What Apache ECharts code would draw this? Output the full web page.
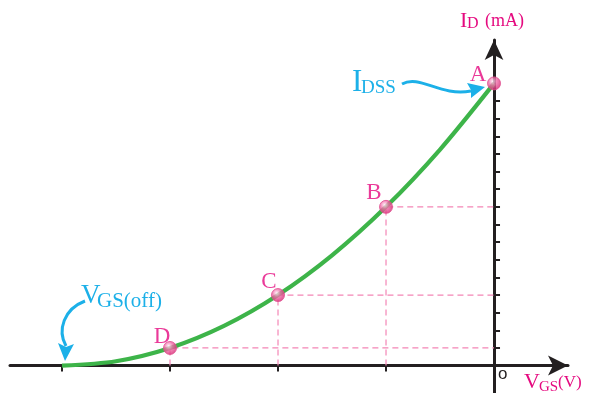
<!DOCTYPE html>
<html>
<head>
<meta charset="utf-8">
<script src="https://cdn.jsdelivr.net/npm/echarts@6/dist/echarts.min.js"></script>
<style>html,body{margin:0;padding:0;background:#fff}#c{width:589px;height:393px}</style>
</head>
<body>
<div id="c"></div>
<script>
// ---- data ----
var curveV = [-4, -3.5, -3, -2.5, -2, -1.5, -1, -0.5, 0];          // V_GS (V)
var curveI = [0, 0.25, 1, 2.25, 4, 6.25, 9, 12.25, 16];             // I_D (mA)
var pointNames = ['A', 'B', 'C', 'D'];
var pointV = [0, -1, -2, -3];
var pointI = [16, 9, 4, 1];
var xTicks = [-4, -3, -2, -1];
var yTicks = [1, 2, 3, 4, 5, 6, 7, 8, 9, 10, 11, 12, 13, 14, 15];

var MAG = '#e5097f', CYAN = '#1cb0e8', GREEN = '#3db449', DASH = '#f385b5', AX = '#231f20';
var SERIF = '"Liberation Serif","DejaVu Serif",serif';

var chart = echarts.init(document.getElementById('c'));

var series = [];
// dashed guide lines
pointV.forEach(function (v, i) {
  if (v < 0) {
    series.push({
      type: 'line', z: 1, symbol: 'none', silent: true,
      data: [[v, 0], [v, pointI[i]], [0, pointI[i]]],
      lineStyle: { color: DASH, width: 1.2, type: [6, 4] }
    });
  }
});
// curve
series.push({
  type: 'line', z: 3, symbol: 'none', smooth: 0.3,
  data: curveV.map(function (v, i) { return [v, curveI[i]]; }),
  lineStyle: { color: GREEN, width: 4.2 }
});
// points
var labelOffsets = [[-16, -8], [-12, -14], [-9, -13], [-8, -11]];
series.push({
  type: 'scatter', z: 5, symbol: 'circle', symbolSize: 13,
  data: pointV.map(function (v, i) {
    return {
      value: [v, pointI[i]], name: pointNames[i],
      label: { show: true, formatter: pointNames[i], position: 'inside', offset: labelOffsets[i],
        color: MAG, fontSize: 23, fontFamily: SERIF }
    };
  }),
  itemStyle: {
    color: { type: 'radial', x: 0.4, y: 0.35, r: 0.7,
      colorStops: [{ offset: 0, color: '#ffeef6' }, { offset: 0.4, color: '#f16fab' }, { offset: 1, color: '#d3206c' }] },
    borderColor: '#e04d8e', borderWidth: 1
  }
});

function txt(x, y, s, size, color, family) {
  return { type: 'text', z: 10, x: x, y: y,
    style: { text: s, fontSize: size, fill: color, fontFamily: family || SERIF, align: 'left', verticalAlign: 'middle' } };
}

var graphics = [
  // I_D (mA)
  txt(460, 21, 'I', 22, MAG), txt(467, 24, 'D', 16, MAG), txt(485, 21, '(mA)', 18, MAG),
  // V_GS(V)
  txt(524, 382, 'V', 22, MAG), txt(539, 387, 'GS', 15, MAG), txt(558, 383, '(V)', 17, MAG),
  // origin
  txt(498, 374, 'o', 17, AX, '"Liberation Sans",sans-serif'),
  // I_DSS
  txt(352, 83, 'I', 31, CYAN), txt(361, 88, 'DSS', 19, CYAN),
  // V_GS(off)
  txt(81, 296, 'V', 27, CYAN), txt(97, 301, 'GS(off)', 21, CYAN),
  // I_DSS arrow
  { type: 'bezierCurve', z: 10, shape: { x1: 402, y1: 84, cpx1: 420, cpy1: 74, cpx2: 440, cpy2: 97, x2: 471, y2: 91 },
    style: { stroke: CYAN, lineWidth: 3, fill: null } },
  { type: 'polygon', z: 10, shape: { points: [[485, 87], [467, 83], [471, 90], [471, 98]] }, style: { fill: CYAN } },
  // V_GS(off) arrow
  { type: 'bezierCurve', z: 10, shape: { x1: 85, y1: 301, cpx1: 64, cpy1: 309, cpx2: 57, cpy2: 330, x2: 66, y2: 346 },
    style: { stroke: CYAN, lineWidth: 3, fill: null } },
  { type: 'polygon', z: 10, shape: { points: [[65, 361], [58, 343], [66, 347], [74, 344]] }, style: { fill: CYAN } }
];

chart.setOption({
  animation: false,
  backgroundColor: '#fff',
  grid: { left: 10, right: 21, top: 40, bottom: 0 },
  xAxis: {
    type: 'value', min: -4.4815, max: 0.685,
    axisLine: { show: true, onZero: true, symbol: ['none', 'arrow'], symbolSize: [15, 20], lineStyle: { color: AX, width: 3 } },
    axisTick: { show: true, customValues: xTicks, inside: false, length: 6, lineStyle: { color: AX, width: 2 } },
    axisLabel: { show: false }, splitLine: { show: false }
  },
  yAxis: {
    type: 'value', min: -1.553, max: 18.46,
    axisLine: { show: true, onZero: true, symbol: ['none', 'arrow'], symbolSize: [14, 20], lineStyle: { color: AX, width: 3 } },
    axisTick: { show: true, customValues: yTicks, inside: true, length: 6, lineStyle: { color: AX, width: 2 } },
    axisLabel: { show: false }, splitLine: { show: false }
  },
  series: series,
  graphic: graphics
});
</script>
</body>
</html>
